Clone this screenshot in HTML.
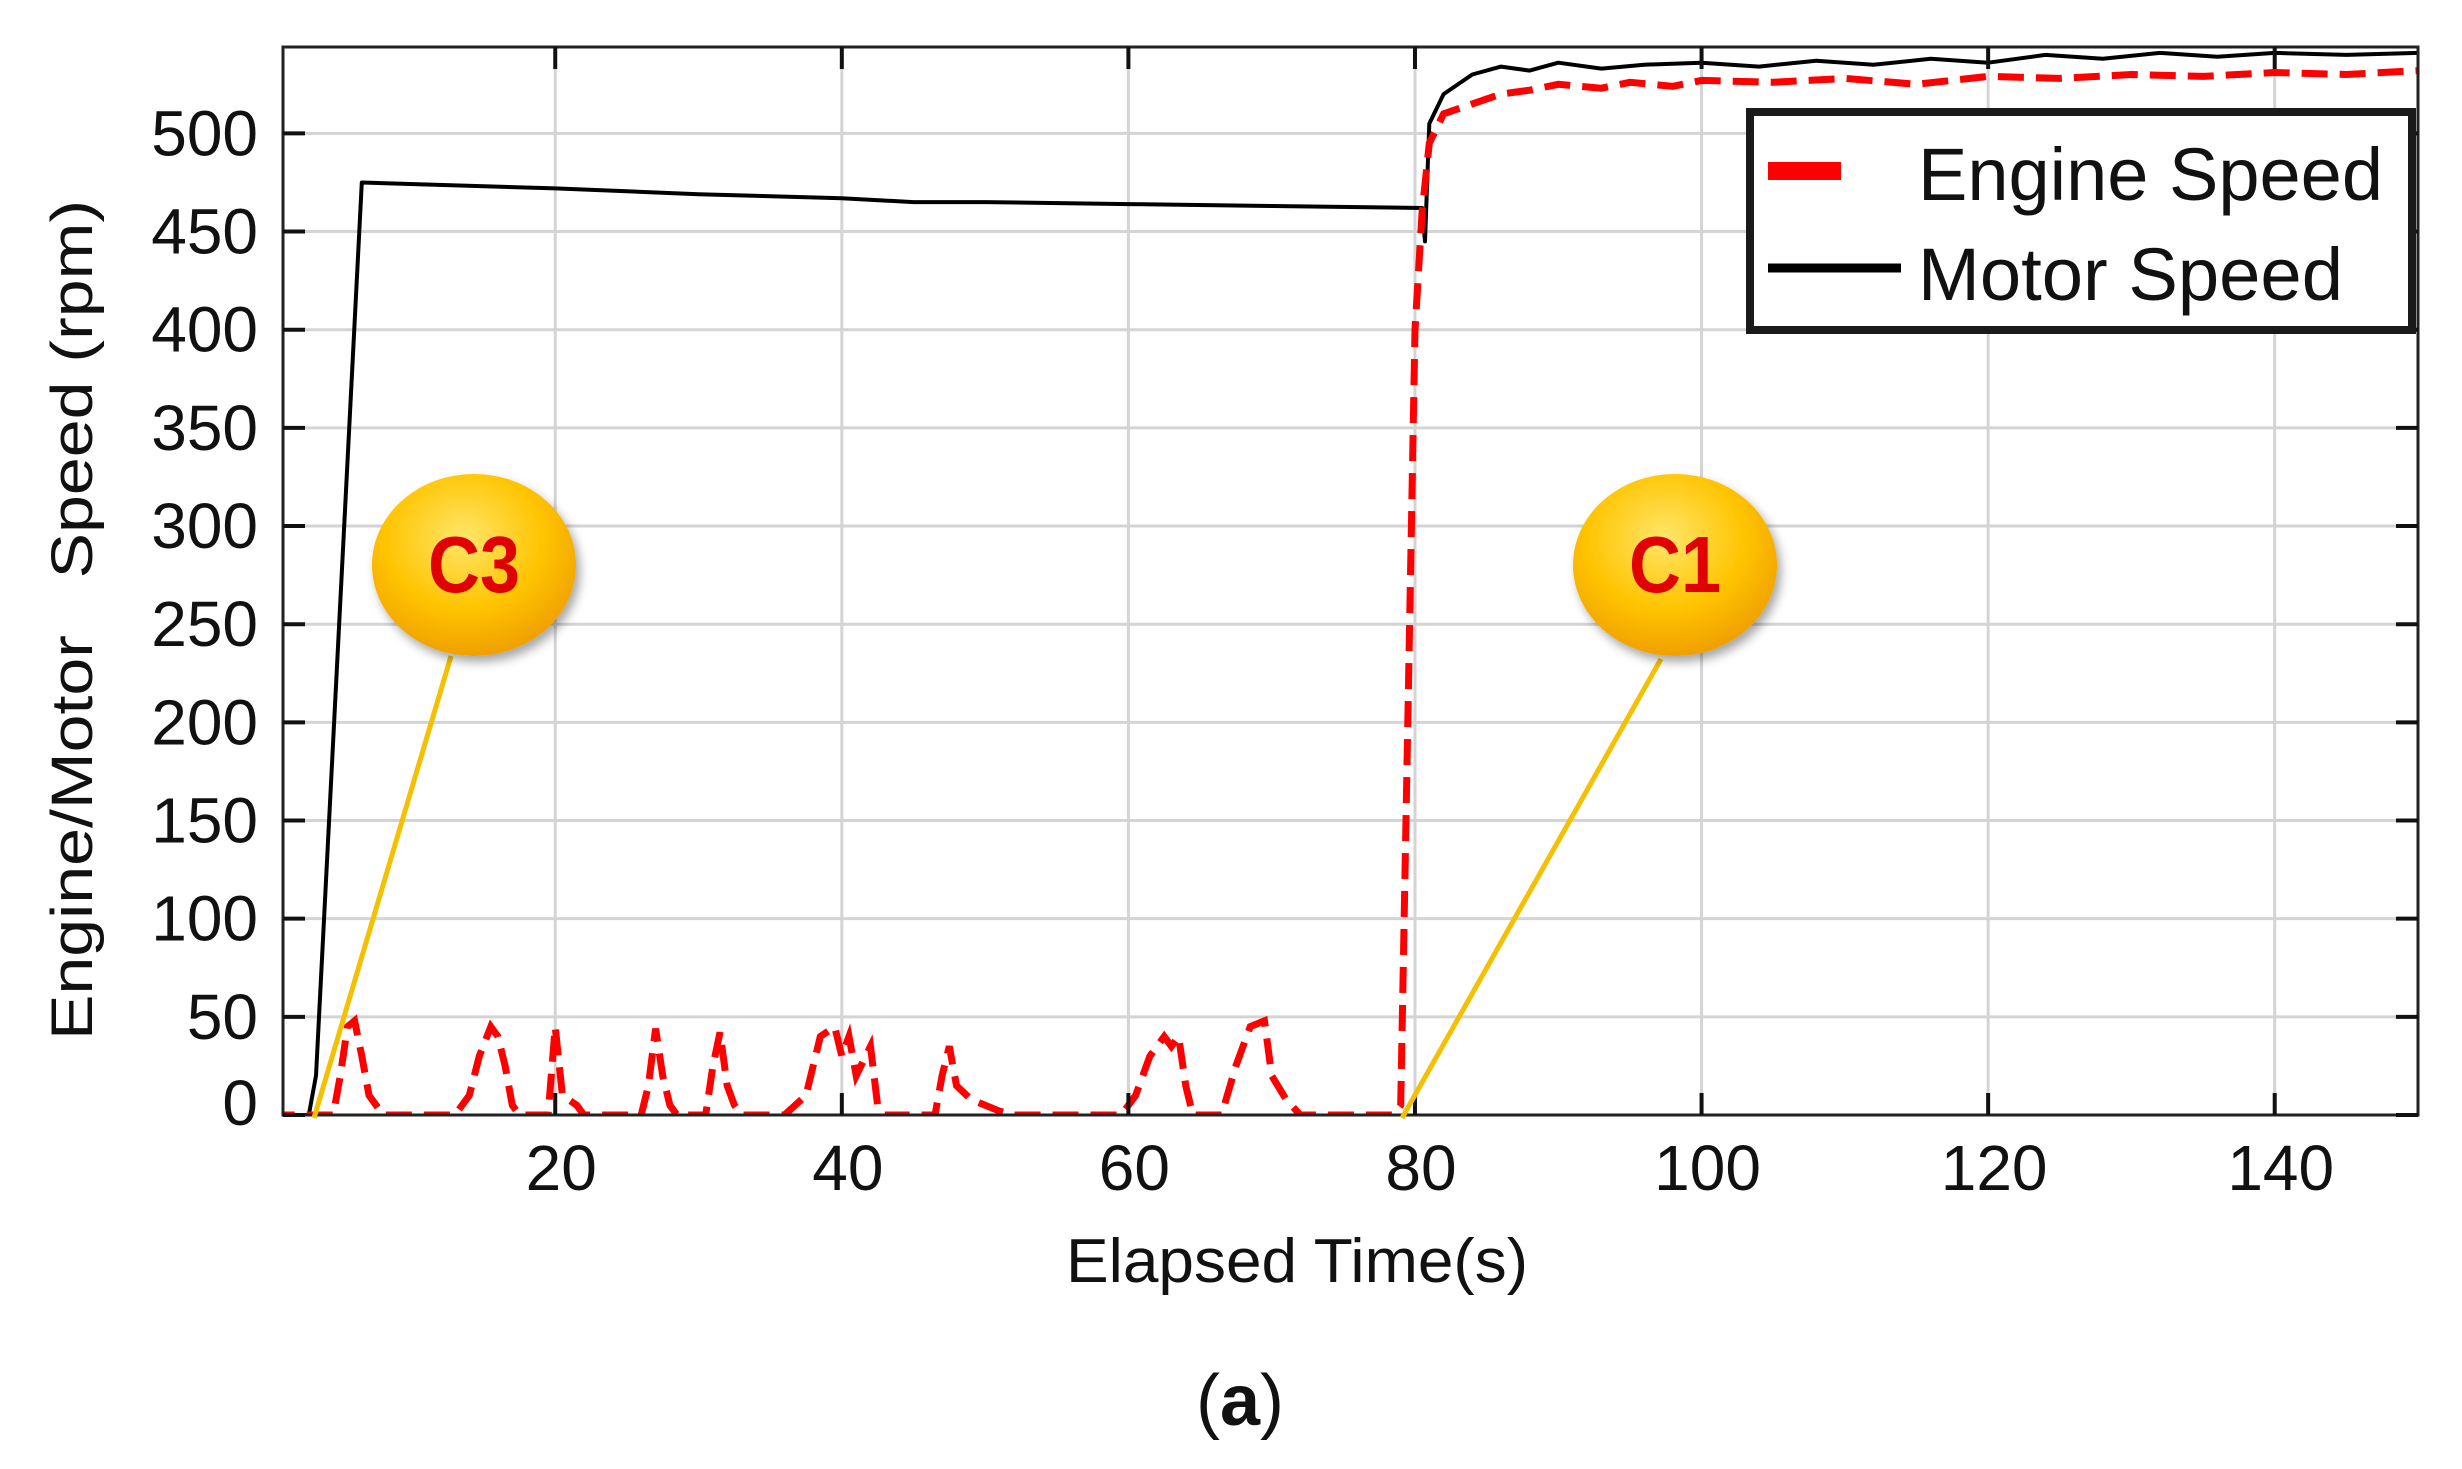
<!DOCTYPE html>
<html><head><meta charset="utf-8"><style>
html,body{margin:0;padding:0;background:#fff;}
svg{display:block;}
text{font-family:"Liberation Sans",sans-serif;}
</style></head><body>
<svg id="chart" width="2462" height="1469" viewBox="0 0 2462 1469" xmlns="http://www.w3.org/2000/svg">
<defs>
<radialGradient id="gold" cx="45%" cy="35%" r="65%">
<stop offset="0" stop-color="#ffe66a"/><stop offset="0.6" stop-color="#ffc400"/><stop offset="1" stop-color="#f0a000"/>
</radialGradient>
<filter id="sh" x="-30%" y="-30%" width="160%" height="160%"><feDropShadow dx="4" dy="6" stdDeviation="5" flood-color="#000" flood-opacity="0.35"/></filter>
<clipPath id="plotclip"><rect x="283" y="47" width="2135" height="1068"/></clipPath>
</defs>
<g id="grid"></g>
<g id="series" clip-path="url(#plotclip)"></g>
<rect x="283" y="47" width="2135" height="1068" fill="none" stroke="#222" stroke-width="3"/>
<g id="ticks"></g>
<g>
<line x1="451" y1="656" x2="314" y2="1118" stroke="#f5c000" stroke-width="5"/>
<ellipse cx="474" cy="565" rx="102" ry="91" fill="url(#gold)" filter="url(#sh)"/>
<text x="474" y="592" text-anchor="middle" font-size="80" font-weight="bold" fill="#e00000" textLength="92" lengthAdjust="spacingAndGlyphs">C3</text>
</g>
<g>
<line x1="1661" y1="659" x2="1402" y2="1118" stroke="#f5c000" stroke-width="5"/>
<ellipse cx="1675" cy="565" rx="102" ry="91" fill="url(#gold)" filter="url(#sh)"/>
<text x="1675" y="592" text-anchor="middle" font-size="80" font-weight="bold" fill="#e00000" textLength="92" lengthAdjust="spacingAndGlyphs">C1</text>
</g>
<g>
<rect x="1750" y="112" width="662" height="218" fill="#fff" stroke="#1a1a1a" stroke-width="8"/>
<rect x="1768" y="162" width="73" height="18" fill="#ff0000"/>
<text x="1918" y="200" font-size="74" fill="#111" textLength="465" lengthAdjust="spacingAndGlyphs">Engine Speed</text>
<line x1="1768" y1="268" x2="1901" y2="268" stroke="#000" stroke-width="9"/>
<text x="1918" y="300" font-size="74" fill="#111" textLength="425" lengthAdjust="spacingAndGlyphs">Motor Speed</text>
</g>
<text x="1297" y="1282" text-anchor="middle" font-size="62" fill="#111" textLength="462" lengthAdjust="spacingAndGlyphs">Elapsed Time(s)</text>
<text transform="translate(92,620) rotate(-90)" text-anchor="middle" font-size="58" fill="#111" textLength="840" lengthAdjust="spacingAndGlyphs" xml:space="preserve">Engine/Motor   Speed (rpm)</text>
<text x="1240" y="1425" text-anchor="middle" font-size="72" font-family="Liberation Serif, serif" fill="#111">(<tspan font-weight="bold">a</tspan>)</text>
</svg>
<script>
const xTicks = [20, 40, 60, 80, 100, 120, 140];
const yTicks = [0, 50, 100, 150, 200, 250, 300, 350, 400, 450, 500];
const engineT = [0,4.5,5,5.5,6,6.5,7,7.5,8,13,14,14.7,15.5,16,16.5,17,17.5,19.5,20,20.5,21.5,22,26,26.5,27,27.5,28,28.5,30.5,31,31.5,32,32.5,33,36,37.5,38.5,39.5,40,40.5,41,42,42.5,43,46.5,47,47.5,48,49,50,51,52,59.5,60.5,61.5,62.5,63,63.5,64,64.5,66.5,67.5,68.5,69.5,70,71,72,78.5,79,79.5,80,80.5,81,82,84,86,88,90,93,95,98,100,105,110,115,120,125,130,135,140,145,150];
const engineV = [0,0,20,45,48,30,10,5,0,0,10,30,45,40,25,5,0,0,45,10,5,0,0,15,44,20,5,0,0,25,42,15,5,0,0,10,40,45,30,40,20,35,5,0,0,20,35,15,8,5,2,0,0,10,30,40,35,40,15,0,0,25,45,48,20,8,0,0,5,200,400,460,495,510,515,520,522,525,523,526,524,527,526,528,525,529,528,530,529,531,530,532];
const motorT = [1,2.8,3.3,6.5,20,30,40,45,50,60,70,80.5,80.7,81,82,84,86,88,90,93,96,100,104,108,112,116,120,124,128,132,136,140,145,150];
const motorV = [0,0,20,475,472,469,467,465,465,464,463,462,445,505,520,530,534,532,536,533,535,536,534,537,535,538,536,540,538,541,539,541,540,541];

const X0 = 283, X1 = 2418, Y0 = 1115, Y1 = 47;
const xMin = 1, xMax = 150, yMin = 0, yMax = 544;
const xs = v => X0 + (v - xMin) / (xMax - xMin) * (X1 - X0);
const ys = v => Y0 - (v - yMin) / (yMax - yMin) * (Y0 - Y1);
const NS = "http://www.w3.org/2000/svg";
const grid = document.getElementById('grid');
const ticks = document.getElementById('ticks');
const series = document.getElementById('series');
function mk(tag, attrs, parent) {
  const e = document.createElementNS(NS, tag);
  for (const k in attrs) e.setAttribute(k, attrs[k]);
  parent.appendChild(e);
  return e;
}
xTicks.forEach(t => {
  const x = xs(t);
  const g = mk('line', {x1: x, x2: x, y1: Y1, y2: Y0, stroke: '#d4d4d4', 'stroke-width': 3}, grid);
  
  
  mk('line', {x1: x, x2: x, y1: Y0, y2: Y0 - 22, stroke: '#111', 'stroke-width': 4}, ticks);
  mk('line', {x1: x, x2: x, y1: Y1, y2: Y1 + 22, stroke: '#111', 'stroke-width': 4}, ticks);
  const tx = mk('text', {x: x + 6, y: 1190, 'text-anchor': 'middle', 'font-size': 64, fill: '#111'}, ticks);
  tx.textContent = t;
  
  
});
yTicks.forEach(t => {
  const y = ys(t);
  if (t > 0) {
    const g = mk('line', {x1: X0, x2: X1, y1: y, y2: y, stroke: '#d4d4d4', 'stroke-width': 3}, grid);
    
    
  }
  mk('line', {x1: X0, x2: X0 + 22, y1: y, y2: y, stroke: '#111', 'stroke-width': 4}, ticks);
  mk('line', {x1: X1, x2: X1 - 22, y1: y, y2: y, stroke: '#111', 'stroke-width': 4}, ticks);
  const tx = mk('text', {x: 258, y: y + (t === 0 ? 10 : 22), 'text-anchor': 'end', 'font-size': 64, fill: '#111'}, ticks);
  tx.textContent = t;
  
  
});
function pathOf(T, V) { return T.map((t, i) => (i ? 'L' : 'M') + xs(t).toFixed(1) + ' ' + ys(V[i]).toFixed(1)).join(' '); }
const m = mk('path', {d: pathOf(motorT, motorV), fill: 'none', stroke: '#000', 'stroke-width': 4, 'stroke-linejoin': 'round'}, series);


const e = mk('path', {d: pathOf(engineT, engineV), fill: 'none', stroke: '#ff0000', 'stroke-width': 7, 'stroke-dasharray': '26 12'}, series);


</script>
</body></html>
